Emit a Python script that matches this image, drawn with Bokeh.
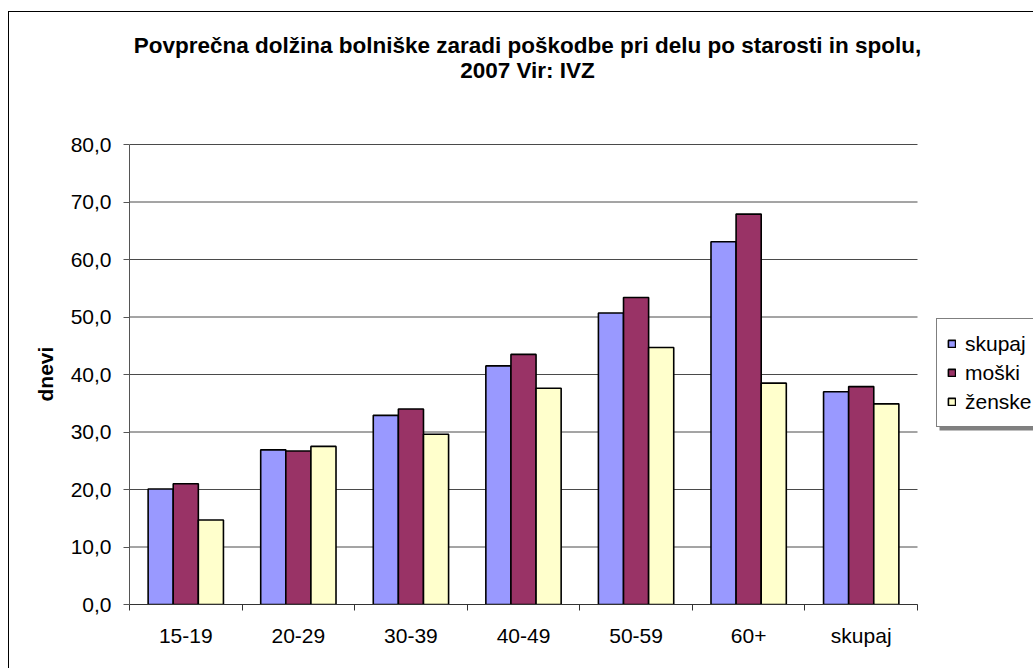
from bokeh.plotting import figure
from bokeh.models import Range1d, FixedTicker, BoxAnnotation, Label, Title, Legend, LegendItem
from bokeh.embed import file_html
from bokeh.resources import INLINE

categories = ["15-19", "20-29", "30-39", "40-49", "50-59", "60+", "skupaj"]
series_names = ["skupaj", "moški", "ženske"]
skupaj = [20.1, 26.9, 32.9, 41.5, 50.7, 63.1, 37.0]
moski = [21.0, 26.7, 34.0, 43.5, 53.4, 67.9, 37.9]
zenske = [14.7, 27.5, 29.6, 37.6, 44.7, 38.5, 34.9]
colors = ["#9999FF", "#993366", "#FFFFCC"]
y_ticks = [0, 10, 20, 30, 40, 50, 60, 70, 80]
y_tick_labels = ["0,0", "10,0", "20,0", "30,0", "40,0", "50,0", "60,0", "70,0", "80,0"]
title_lines = ["Povprečna dolžina bolniške zaradi poškodbe pri delu po starosti in spolu,",
               "2007 Vir: IVZ"]
y_label = "dnevi"

FONT = "Liberation Sans"
n = len(categories)
y_max = y_ticks[-1]

W, H = 1033, 668
LEFT, BOTTOM = 129, 64          # plot-area origin (pixels)
AREA_W, AREA_H = 788, 460       # size of the category / value area
frame_w, frame_h = W - LEFT, H - BOTTOM

p = figure(width=W, height=H,
           x_range=Range1d(0, n * frame_w / AREA_W),
           y_range=Range1d(0, y_max * frame_h / AREA_H),
           output_backend="svg", toolbar_location=None, title=None,
           min_border_left=LEFT, min_border_right=0, min_border_top=0, min_border_bottom=BOTTOM)
p.outline_line_color = None
p.background_fill_alpha = 0
p.border_fill_alpha = 0
# outer chart border (left & top edges), drawn behind the transparent canvas
p.styles = {"box-shadow": "inset 8px 11px 0 0 white, inset 9px 12px 0 0 black",
            "background-color": "white"}

# horizontal gridlines limited to the category area
p.xgrid.visible = False
p.ygrid.visible = False
p.segment(x0=[0] * len(y_ticks), x1=[n] * len(y_ticks), y0=y_ticks, y1=y_ticks,
          line_color="#4a4a4a", line_width=1)

bw = 0.223
offsets = [-bw, 0.0, bw]
renderers = []
for vals, off, col in zip([skupaj, moski, zenske], offsets, colors):
    xs = [i + 0.5 + off for i in range(n)]
    r = p.vbar(x=xs, top=vals, width=bw, bottom=0, fill_color=col,
               line_color="black", line_width=1.6)
    renderers.append(r)

# y axis
p.yaxis.bounds = (0, y_max)
p.yaxis.ticker = FixedTicker(ticks=y_ticks)
p.yaxis.major_label_overrides = {t: l for t, l in zip(y_ticks, y_tick_labels)}
p.yaxis.major_tick_out = 6
p.yaxis.major_tick_in = 0
p.yaxis.minor_tick_line_color = None
p.yaxis.axis_line_color = "#555555"
p.yaxis.major_tick_line_color = "#555555"
p.yaxis.major_label_text_font = FONT
p.yaxis.major_label_text_font_size = "21px"
p.yaxis.major_label_text_color = "black"
p.yaxis.major_label_standoff = 12

# y-axis title, placed beside the value area (rotated, in the left panel)
p.add_layout(Title(text=y_label, align="left", offset=203, text_font=FONT,
                   text_font_style="bold", text_font_size="21px", text_color="black",
                   standoff=22), "left")

# x axis: labels at category centres, tick marks at category boundaries
centers = [i + 0.5 for i in range(n)]
p.xaxis.bounds = (0, n)
p.xaxis.ticker = FixedTicker(ticks=centers, minor_ticks=list(range(n + 1)))
p.xaxis.major_label_overrides = {c: lab for c, lab in zip(centers, categories)}
p.xaxis.major_tick_out = 0
p.xaxis.major_tick_in = 0
p.xaxis.major_tick_line_color = None
p.xaxis.minor_tick_out = 6
p.xaxis.minor_tick_in = 0
p.xaxis.minor_tick_line_color = "#333333"
p.xaxis.axis_line_color = "#333333"
p.xaxis.major_label_text_font = FONT
p.xaxis.major_label_text_font_size = "21px"
p.xaxis.major_label_text_color = "black"
p.xaxis.major_label_standoff = 13

# chart title (two lines)
for txt, yy in zip(title_lines, [559, 534]):
    p.add_layout(Label(x=398, y=yy, x_units="screen", y_units="screen", text=txt,
                       text_align="center", text_baseline="alphabetic",
                       text_font=FONT, text_font_style="bold", text_font_size="22.5px",
                       text_color="black"))

# legend shadow
p.add_layout(BoxAnnotation(left=939, right=1200, top=322, bottom=430,
                           left_units="canvas", right_units="canvas",
                           top_units="canvas", bottom_units="canvas",
                           fill_color="#808080", fill_alpha=1, line_alpha=0))

legend = Legend(items=[LegendItem(label=nm, renderers=[r]) for nm, r in zip(series_names, renderers)],
                location=(807, 177), orientation="vertical")
legend.label_text_font = FONT
legend.label_text_font_size = "21px"
legend.label_text_color = "black"
legend.label_height = 29
legend.glyph_height = 9
legend.glyph_width = 9
legend.label_standoff = 9
legend.spacing = 0
legend.padding = 10
legend.margin = 0
legend.border_line_color = "black"
legend.border_line_width = 1
legend.background_fill_color = "white"
legend.background_fill_alpha = 1
p.add_layout(legend)

open("out.html", "w").write(file_html(p, INLINE))
